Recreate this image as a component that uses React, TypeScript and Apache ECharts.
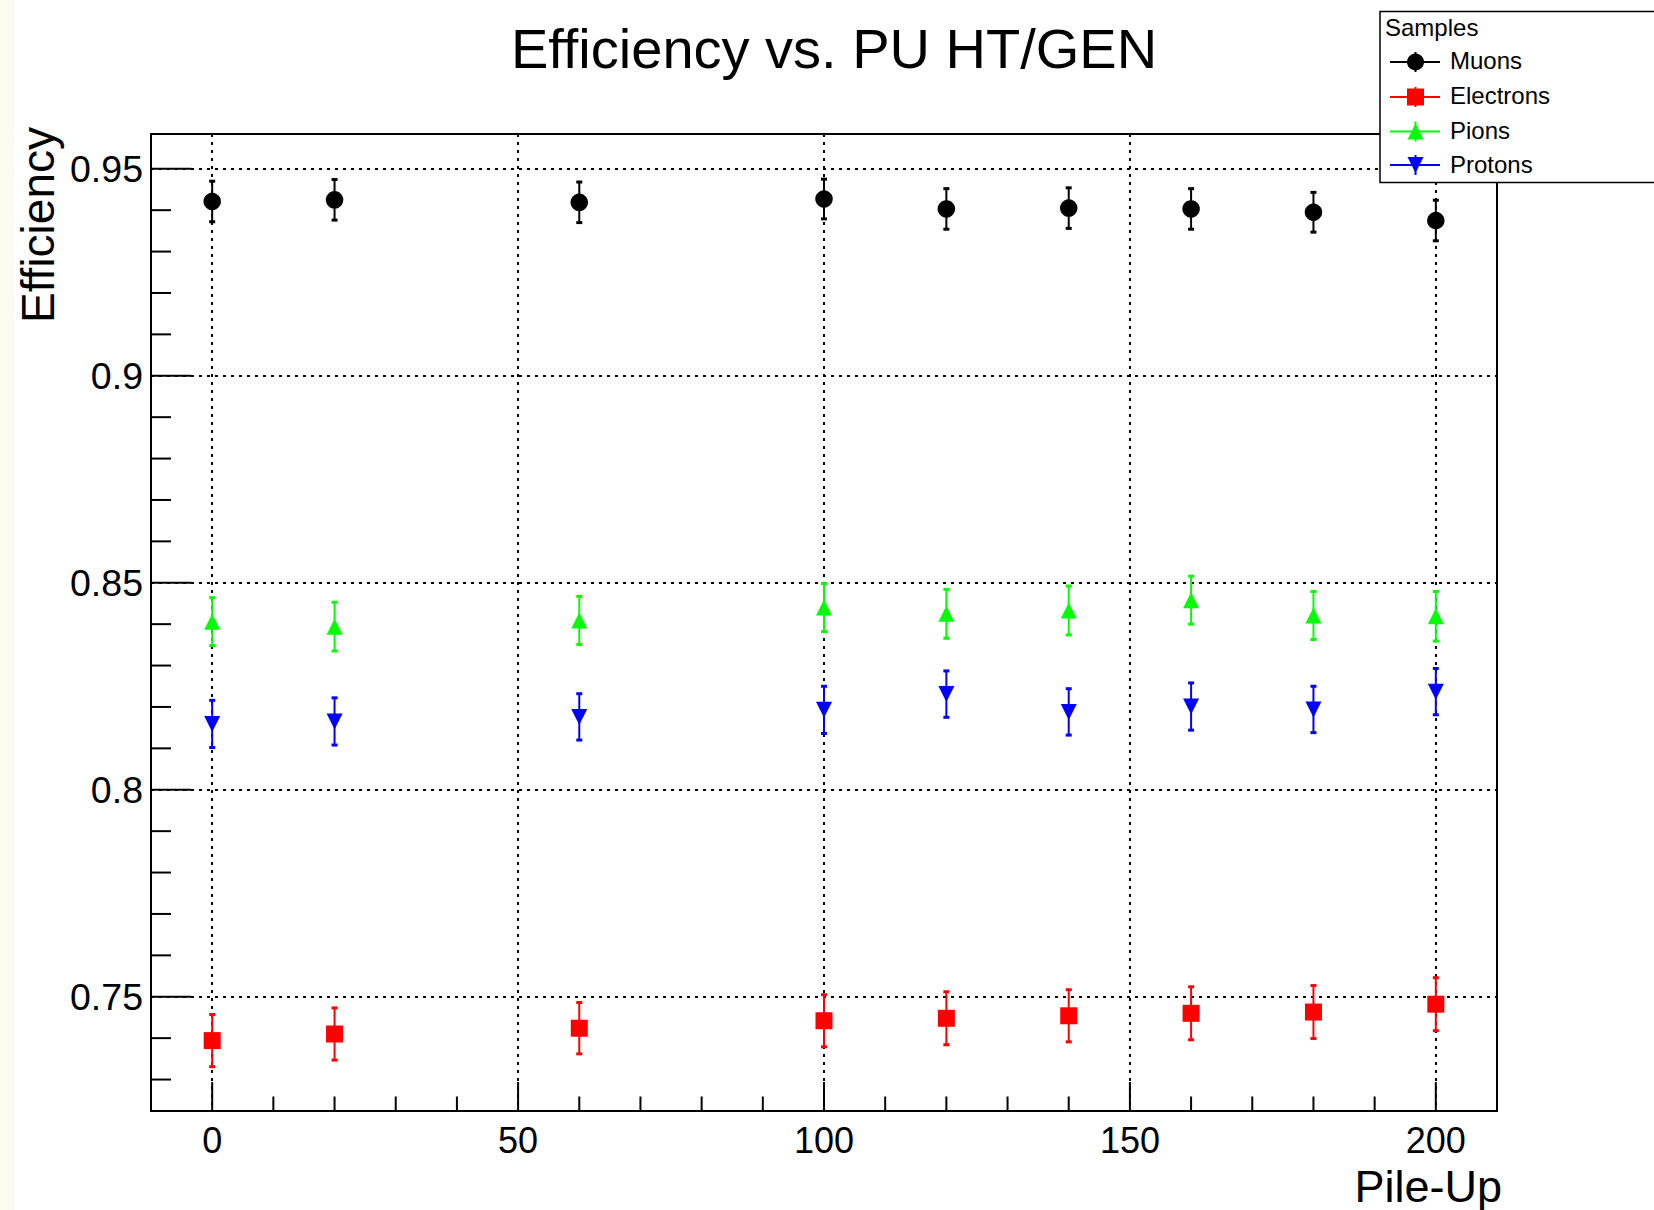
import React, { useEffect, useRef } from 'react';
import * as echarts from 'echarts';

// ---------------- data ----------------
const pileUp = [0, 20, 60, 100, 120, 140, 160, 180, 200];

const muonEff = [0.9421, 0.9425, 0.9419, 0.9427, 0.9403, 0.9405, 0.9403, 0.9395, 0.9375];
const muonErr = [0.0049, 0.0049, 0.0049, 0.0048, 0.0049, 0.0049, 0.0049, 0.0048, 0.0049];

const electronEff = [0.7394, 0.741, 0.7424, 0.7442, 0.7448, 0.7454, 0.746, 0.7463, 0.7482];
const electronErr = [0.0063, 0.0063, 0.0062, 0.0063, 0.0064, 0.0063, 0.0064, 0.0064, 0.0064];

const pionEff = [0.8406, 0.8394, 0.8409, 0.844, 0.8425, 0.8433, 0.8458, 0.8421, 0.8419];
const pionErr = [0.0058, 0.0059, 0.0058, 0.0058, 0.0059, 0.0059, 0.0058, 0.0058, 0.006];

const protonEff = [0.8159, 0.8165, 0.8176, 0.8193, 0.8231, 0.8188, 0.8201, 0.8194, 0.8237];
const protonErr = [0.0057, 0.0057, 0.0056, 0.0057, 0.0056, 0.0056, 0.0057, 0.0056, 0.0056];

const seriesNames = ['Muons', 'Electrons', 'Pions', 'Protons'];

const xMin = -10;
const xMax = 210;
const yMin = 0.7224;
const yMax = 0.9584;

const xMajorTicks = [0, 50, 100, 150, 200];
const xMinorTicks = [10, 20, 30, 40, 60, 70, 80, 90, 110, 120, 130, 140, 160, 170, 180, 190];
const xTickLabels = ['0', '50', '100', '150', '200'];

const yMajorTicks = [0.75, 0.8, 0.85, 0.9, 0.95];
const yMinorTicks = [
  0.73, 0.74, 0.76, 0.77, 0.78, 0.79, 0.81, 0.82, 0.83, 0.84, 0.86, 0.87, 0.88, 0.89, 0.91,
  0.92, 0.93, 0.94,
];
const yTickLabels = ['0.75', '0.8', '0.85', '0.9', '0.95'];

const titleText = 'Efficiency vs. PU HT/GEN';
const xTitle = 'Pile-Up';
const yTitle = 'Efficiency';
const legendTitle = 'Samples';

// ---------------- styles ----------------
const FONT = '"Liberation Sans", Arial, Helvetica, sans-serif';
const COLORS = ['#000000', '#ff0000', '#00ff00', '#0000ff'];

function labelFor(v: number, ticks: number[], labels: string[]) {
  for (let i = 0; i < ticks.length; i++) {
    if (Math.abs(v - ticks[i]) < 1e-6) return labels[i];
  }
  return '';
}

function errorSeries(name: string, eff: number[], err: number[], color: string) {
  return {
    type: 'custom',
    name: name + ' errors',
    z: 3,
    silent: true,
    clip: false,
    data: pileUp.map((x, i) => [x, eff[i], err[i]]),
    encode: { x: 0, y: 1 },
    renderItem: (params: any, api: any) => {
      const x = api.value(0);
      const y = api.value(1);
      const e = api.value(2);
      const t = api.coord([x, y + e]);
      const b = api.coord([x, y - e]);
      return {
        type: 'group',
        children: [
          {
            type: 'line',
            shape: { x1: t[0], y1: t[1], x2: b[0], y2: b[1] },
            style: { stroke: color, lineWidth: 2 },
          },
          { type: 'rect', shape: { x: t[0] - 3, y: t[1] - 1.5, width: 6, height: 3 }, style: { fill: color } },
          { type: 'rect', shape: { x: b[0] - 3, y: b[1] - 1.5, width: 6, height: 3 }, style: { fill: color } },
        ],
      };
    },
  };
}

function markerSeries(name: string, eff: number[], color: string, symbol: string, size: number, rotate = 0) {
  return {
    type: 'scatter',
    name,
    z: 4,
    silent: true,
    symbol,
    symbolSize: size,
    symbolRotate: rotate,
    itemStyle: { color, opacity: 1 },
    data: pileUp.map((x, i) => [x, eff[i]]),
  };
}

function yTickSeries(ticks: number[], len: number) {
  return {
    type: 'custom',
    z: 5,
    silent: true,
    clip: false,
    data: ticks.map((v) => [xMin, v]),
    encode: { x: 0, y: 1 },
    renderItem: (params: any, api: any) => {
      const p = api.coord([api.value(0), api.value(1)]);
      return {
        type: 'line',
        shape: { x1: p[0], y1: p[1], x2: p[0] + len, y2: p[1] },
        style: { stroke: '#000', lineWidth: 2 },
      };
    },
  };
}

function xTickSeries(ticks: number[], len: number) {
  return {
    type: 'custom',
    z: 5,
    silent: true,
    clip: false,
    data: ticks.map((v) => [v, yMin]),
    encode: { x: 0, y: 1 },
    renderItem: (params: any, api: any) => {
      const p = api.coord([api.value(0), api.value(1)]);
      return {
        type: 'line',
        shape: { x1: p[0], y1: p[1], x2: p[0], y2: p[1] - len },
        style: { stroke: '#000', lineWidth: 2 },
      };
    },
  };
}

function legendGraphics() {
  const left = 1380;
  const top = 11.5;
  const textY = [60, 95, 130, 164];
  const markY = [62, 97, 131.5, 165];
  const mx = 1415.5;
  const els: any[] = [
    {
      type: 'rect',
      z: 100,
      shape: { x: left, y: top, width: 320, height: 171 },
      style: { fill: '#ffffff', stroke: '#000000', lineWidth: 1.5 },
    },
    {
      type: 'text',
      z: 101,
      x: 1385,
      y: 27,
      style: { text: legendTitle, fontSize: 24, fontFamily: FONT, fill: '#000', align: 'left', verticalAlign: 'middle' },
    },
  ];
  seriesNames.forEach((name, i) => {
    const c = COLORS[i];
    const y = markY[i];
    els.push({
      type: 'line',
      z: 101,
      shape: { x1: 1390, y1: y, x2: 1440, y2: y },
      style: { stroke: c, lineWidth: 2 },
    });
    els.push({
      type: 'line',
      z: 101,
      shape: { x1: mx, y1: y - 10, x2: mx, y2: y + 10 },
      style: { stroke: c, lineWidth: 2 },
    });
    let marker: any;
    if (i === 0) {
      marker = { type: 'circle', shape: { cx: mx, cy: y, r: 8.5 } };
    } else if (i === 1) {
      marker = { type: 'rect', shape: { x: mx - 8.5, y: y - 8.5, width: 17, height: 17 } };
    } else if (i === 2) {
      marker = { type: 'polygon', shape: { points: [[mx - 8, y + 8], [mx + 8, y + 8], [mx, y - 8]] } };
    } else {
      marker = { type: 'polygon', shape: { points: [[mx - 8, y - 8], [mx + 8, y - 8], [mx, y + 8]] } };
    }
    marker.z = 102;
    marker.style = { fill: c };
    els.push(marker);
    els.push({
      type: 'text',
      z: 101,
      x: 1450,
      y: textY[i],
      style: { text: name, fontSize: 24, fontFamily: FONT, fill: '#000', align: 'left', verticalAlign: 'middle' },
    });
  });
  return els;
}

export default function App() {
  const ref = useRef<HTMLDivElement>(null);

  useEffect(() => {
    document.body.style.margin = '0';
    const chart = echarts.init(ref.current!, null, { renderer: 'svg' });

    const gridLine = { color: '#000', width: 2, type: [3, 5] as any };

    const option: any = {
      animation: false,
      backgroundColor: '#ffffff',
      grid: {
        left: 151,
        top: 134,
        width: 1346,
        height: 977,
        containLabel: false,
        outerBoundsMode: 'none',
        show: true,
        borderColor: '#000',
        borderWidth: 2,
        backgroundColor: 'transparent',
      },
      xAxis: {
        type: 'value',
        min: xMin,
        max: xMax,
        minInterval: 50,
        maxInterval: 50,
        axisLine: { show: false },
        axisTick: { show: false },
        splitLine: { show: true, lineStyle: gridLine },
        axisLabel: {
          show: true,
          fontSize: 36,
          fontFamily: FONT,
          color: '#000',
          margin: 11,
          showMinLabel: false,
          showMaxLabel: false,
          formatter: (v: number) => labelFor(v, xMajorTicks, xTickLabels),
        },
      },
      yAxis: {
        type: 'value',
        min: yMin,
        max: yMax,
        minInterval: 0.05,
        maxInterval: 0.05,
        axisLine: { show: false },
        axisTick: { show: false },
        splitLine: { show: true, lineStyle: gridLine },
        axisLabel: {
          show: true,
          fontSize: 37.5,
          fontFamily: FONT,
          color: '#000',
          margin: 8,
          showMinLabel: false,
          showMaxLabel: false,
          formatter: (v: number) => labelFor(v, yMajorTicks, yTickLabels),
        },
      },
      graphic: [
        {
          type: 'rect',
          z: -10,
          shape: { x: 0, y: 0, width: 14, height: 1210 },
          style: { fill: '#fbfbf2' },
        },
        {
          type: 'text',
          x: 834,
          y: 48.5,
          style: {
            text: titleText,
            fontSize: 56,
            fontFamily: FONT,
            fill: '#000',
            align: 'center',
            verticalAlign: 'middle',
          },
        },
        {
          type: 'text',
          x: 38,
          y: 127,
          rotation: Math.PI / 2,
          style: {
            text: yTitle,
            fontSize: 46,
            fontFamily: FONT,
            fill: '#000',
            align: 'right',
            verticalAlign: 'middle',
          },
        },
        {
          type: 'text',
          x: 1502,
          y: 1186,
          style: {
            text: xTitle,
            fontSize: 45,
            fontFamily: FONT,
            fill: '#000',
            align: 'right',
            verticalAlign: 'middle',
          },
        },
        ...legendGraphics(),
      ],
      series: [
        yTickSeries(yMajorTicks, 40),
        yTickSeries(yMinorTicks, 20),
        xTickSeries(xMajorTicks, 29),
        xTickSeries(xMinorTicks, 14.5),
        errorSeries(seriesNames[0], muonEff, muonErr, COLORS[0]),
        errorSeries(seriesNames[1], electronEff, electronErr, COLORS[1]),
        errorSeries(seriesNames[2], pionEff, pionErr, COLORS[2]),
        errorSeries(seriesNames[3], protonEff, protonErr, COLORS[3]),
        markerSeries(seriesNames[0], muonEff, COLORS[0], 'circle', 17.5),
        markerSeries(seriesNames[1], electronEff, COLORS[1], 'rect', 17),
        markerSeries(seriesNames[2], pionEff, COLORS[2], 'triangle', 16),
        markerSeries(seriesNames[3], protonEff, COLORS[3], 'triangle', 16, 180),
      ],
    };

    chart.setOption(option);
    return () => chart.dispose();
  }, []);

  return (
    <div
      ref={ref}
      style={{ position: 'absolute', left: 0, top: 0, width: 1654, height: 1210, background: '#ffffff' }}
    />
  );
}
